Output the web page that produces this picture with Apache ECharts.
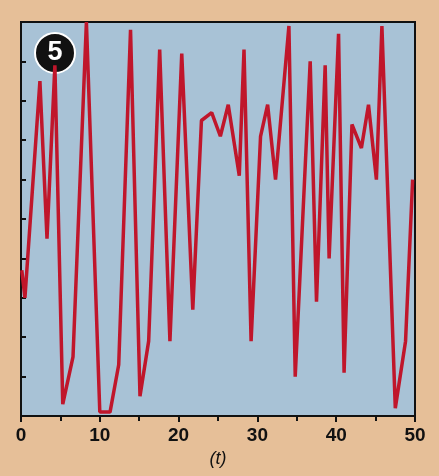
<!DOCTYPE html>
<html>
<head>
<meta charset="utf-8">
<script src="https://cdn.jsdelivr.net/npm/echarts@6/dist/echarts.min.js"></script>
<style>
html,body{margin:0;padding:0;background:#e6bf98;}
#chart{width:439px;height:476px;}
</style>
</head>
<body>
<div id="chart"></div>
<script>
// time t and value x(t)
const tVals = [0.1,0.5,2.4,3.3,4.3,5.3,6.6,8.3,10.0,11.3,12.4,13.9,15.1,16.2,17.6,18.9,20.4,21.8,22.9,24.2,
  25.3,26.3,27.7,28.3,29.2,30.4,31.3,32.3,34.0,34.8,36.7,37.5,38.6,39.1,40.3,41.0,42.0,43.2,44.1,45.1,45.8,47.5,48.8,49.7];
const xVals = [0.37,0.30,0.85,0.45,0.89,0.03,0.15,1.0,0.01,0.01,0.13,0.98,0.05,0.19,0.93,0.19,0.92,0.27,0.75,0.77,
  0.71,0.79,0.61,0.93,0.19,0.71,0.79,0.60,0.99,0.10,0.90,0.29,0.89,0.40,0.97,0.11,0.74,0.68,0.79,0.60,0.99,0.02,0.19,0.60];
const xTicks = [0,10,20,30,40,50];

let chart = echarts.init(document.getElementById("chart"));
chart.setOption({
    backgroundColor:"#e6bf98",
    grid:{left:21,right:24,top:22,bottom:60,show:true,backgroundColor:"#a8c2d6",borderColor:"#111",borderWidth:2},
    xAxis:{
        type:"value",min:0,max:50,interval:10,
        name:"(t)",nameLocation:"middle",nameGap:32,
        nameTextStyle:{fontStyle:"italic",fontSize:18,color:"#111",fontFamily:"Liberation Sans"},
        axisLine:{lineStyle:{color:"#111",width:2}},
        axisTick:{length:6,lineStyle:{color:"#111",width:2}},
        minorTick:{show:true,splitNumber:2,length:5,lineStyle:{color:"#111",width:2}},
        splitLine:{show:false},
        axisLabel:{fontSize:19,fontWeight:"bold",color:"#111",fontFamily:"Liberation Sans",margin:10,
            formatter:v=>xTicks.includes(v)?String(v):""}
    },
    yAxis:{
        type:"value",min:0,max:1,interval:0.1,
        axisLine:{lineStyle:{color:"#111",width:2}},
        axisTick:{inside:true,length:5,lineStyle:{color:"#111",width:2}},
        axisLabel:{show:false},
        splitLine:{show:false}
    },
    graphic:[
        {type:"circle",shape:{cx:55,cy:53,r:20},style:{fill:"#111",stroke:"#fff",lineWidth:2}},
        {type:"text",x:55,y:53,style:{text:"5",fill:"#fff",fontSize:27,fontWeight:"bold",fontFamily:"Liberation Sans",align:"center",verticalAlign:"middle"}}
    ],
    series:[{
        type:"line",
        data:tVals.map((t,i)=>[t,xVals[i]]),
        showSymbol:false,
        lineStyle:{color:"#c0162b",width:3.5},
        animation:false
    }]
});
</script>
</body>
</html>
